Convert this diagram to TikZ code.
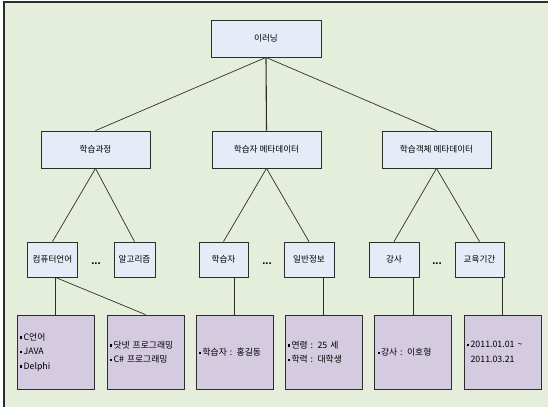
\documentclass[tikz,border=0pt]{standalone}
\usepackage{fontspec}
\setmainfont{Noto Sans CJK KR}
\definecolor{bgg}{RGB}{229,238,218}
\definecolor{boxb}{RGB}{230,236,247}
\definecolor{boxp}{RGB}{212,203,224}
\definecolor{lnc}{RGB}{45,45,45}
\newcommand{\bul}{\raisebox{1.4pt}{\rule{2.4pt}{2.4pt}}\hspace{1.2pt}}
\begin{document}
\begin{tikzpicture}[x=1pt,y=-1pt,
  font=\fontsize{8.6}{10}\selectfont,
  bbox/.style={draw=lnc,line width=0.8pt,fill=boxb,inner sep=0pt,minimum height=#1},
  bbox/.default=37pt,
  pbox/.style={draw=lnc,line width=0.8pt,fill=boxp,minimum width=77pt,minimum height=74pt,
     text width=71pt,inner xsep=3pt,align=left,font=\fontsize{8.8}{14.5}\selectfont},
  conn/.style={draw=lnc,line width=0.7pt},
  dotsn/.style={font=\fontsize{9}{10}\selectfont\bfseries}]
\useasboundingbox (0,0) rectangle (548,407);
\fill[bgg] (4,2) rectangle (548,407);
\draw[lnc,line width=1.2pt] (4,407) -- (4,2) -- (548,2);
% level 1
\node[bbox,minimum width=110pt] (root) at (266,38.5) {이러닝};
% level 2
\node[bbox,minimum width=109pt] (course) at (95.5,149.5) {학습과정};
\node[bbox,minimum width=109pt] (lmeta) at (266.5,149.5) {학습자 메타데이터};
\node[bbox,minimum width=109pt] (ometa) at (436.5,149.5) {학습객체 메타데이터};
% level 3
\node[bbox=35pt,minimum width=50pt] (lang) at (52.5,259.5) {컴퓨터언어};
\node[bbox=35pt,minimum width=41pt] (algo) at (134.5,259.5) {알고리즘};
\node[bbox=35pt,minimum width=49pt] (learner) at (223.5,259.5) {학습자};
\node[bbox=35pt,minimum width=50pt] (info) at (309,259.5) {일반정보};
\node[bbox=35pt,minimum width=50pt] (teacher) at (394,259.5) {강사};
\node[bbox=35pt,minimum width=49pt] (period) at (479.5,259.5) {교육기간};
\node[dotsn] (d1) at (96,264) {...};
\node[dotsn] (d2) at (267,264) {...};
\node[dotsn] (d3) at (437,264) {...};
% level 4
\node[pbox] (b1) at (55.5,352) {\bul C언어\\\bul JAVA\\\bul Delphi};
\node[pbox] (b2) at (145.5,352) {\bul 닷넷 프로그래밍\\\bul C\# 프로그래밍};
\node[pbox] (b3) at (234.5,352) {\bul 학습자 : 홍길동};
\node[pbox] (b4) at (323.5,352) {\bul 연령 : 25 세\\\bul 학력 : 대학생};
\node[pbox] (b5) at (413,352) {\bul 강사 : 이호형};
\node[pbox] (b6) at (502.5,352) {\bul 2011.01.01 \textasciitilde\\\hphantom{\bul}2011.03.21};
% connectors
\draw[conn] (root.south) -- (course.north);
\draw[conn,line width=1.1pt] (root.south) -- (lmeta.north);
\draw[conn] (root.south) -- (ometa.north);
\draw[conn] (course.south) -- (lang.north);
\draw[conn] (course.south) -- (algo.north);
\draw[conn] (lmeta.south) -- (learner.north);
\draw[conn] (lmeta.south) -- (info.north);
\draw[conn] (ometa.south) -- (teacher.north);
\draw[conn] (ometa.south) -- (period.north);
\coordinate (c1) at (b1.north |- lang.south);
\draw[conn] (c1) -- (b1.north);
\draw[conn] (c1) -- (b2.north);
\draw[conn] (b3.north |- learner.south) -- (b3.north);
\draw[conn] (b4.north |- info.south) -- (b4.north);
\draw[conn] (b5.north |- teacher.south) -- (b5.north);
\draw[conn] (b6.north |- period.south) -- (b6.north);
\end{tikzpicture}
\end{document}
